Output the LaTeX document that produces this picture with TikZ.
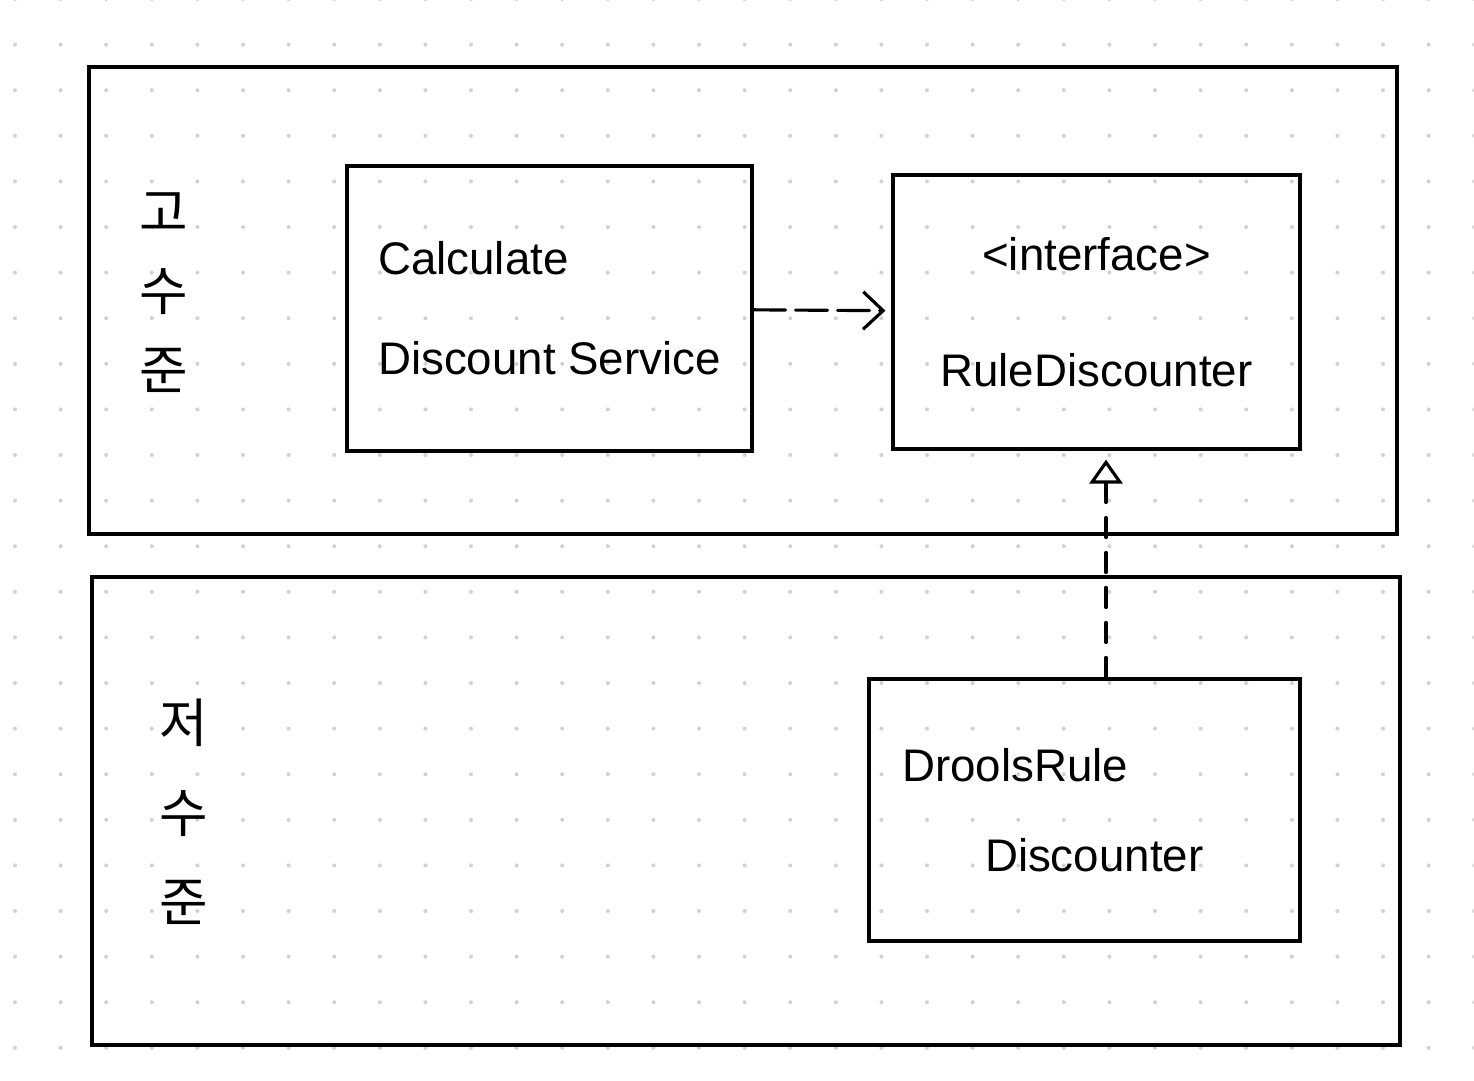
\documentclass[tikz,border=0pt]{standalone}
\usepackage{fontspec}
\setmainfont{Liberation Sans}
\newfontfamily\kor{Noto Sans CJK KR}
\usetikzlibrary{arrows.meta}

\begin{document}
\begin{tikzpicture}[x=.02cm,y=-.02cm,line width=1.8pt,
  box/.style={draw,rectangle,inner sep=0pt},
  dep/.style={line cap=round,dash pattern=on .64cm off .2cm,
    -{Straight Barb[length=.4cm,width=.75cm]},shorten >=.12cm},
  impl/.style={line cap=round,dash pattern=on .4cm off .3cm,
    -{Triangle[open,length=.48cm,width=.66cm]},shorten >=.18cm}]

\clip (0,0) rectangle (1474,1080);
\fill[white] (0,0) rectangle (1474,1080);

% griglia di punti
\pgfmathsetmacro{\passo}{45.6}
\foreach \i in {0,...,32}
  \foreach \j in {0,...,23}
    \fill[black!18] (15+\passo*\i,-1+\passo*\j) circle (.04cm);

% livelli
\draw (89,67) rectangle (1397,534);
\draw (92,577) rectangle (1400,1045);

\node[align=center,font=\kor\fontsize{30}{45}\selectfont] (alto) at (164,293) {고\\수\\준};
\node[align=center,font=\kor\fontsize{30}{51}\selectfont] (basso) at (184,812) {저\\수\\준};

% classi
\node[box,minimum width=8.1cm,minimum height=5.7cm,align=left,
  font=\fontsize{26}{57}\selectfont] (calc) at (549.5,308.5)
  {Calculate\\Discount Service};

\node[box,minimum width=8.14cm,minimum height=5.48cm,align=center,
  font=\fontsize{26}{66}\selectfont] (rule) at (1096.5,312)
  {<interface>\\RuleDiscounter};

\node[box,minimum width=8.62cm,minimum height=5.24cm,align=left,text width=7.3cm,
  font=\fontsize{26}{51}\selectfont] (drools) at (1084.5,810)
  {DroolsRule\\\hspace*{1.66cm}Discounter};

% dipendenze
\draw[dep] (calc) -- (rule);
\draw[impl] ([xshift=.43cm]drools.north) -- ([xshift=.43cm]drools.north |- rule.south);

\end{tikzpicture}
\end{document}
